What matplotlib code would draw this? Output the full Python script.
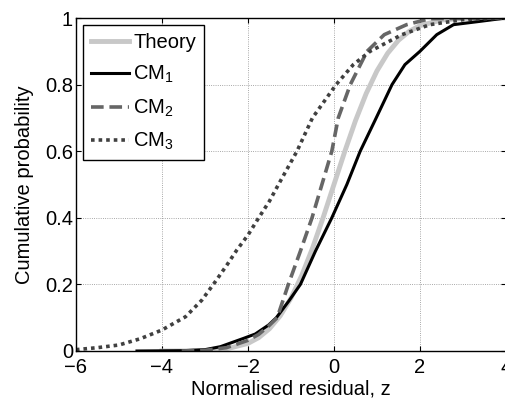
import matplotlib
matplotlib.use("Agg")
import matplotlib.pyplot as plt

plt.rcParams['font.family'] = ['Liberation Sans', 'DejaVu Sans']
plt.rcParams['mathtext.default'] = 'regular'

# theory curve
theory_z = [-4, -3.5, -3, -2.5, -2, -1.75, -1.5, -1.25, -1, -0.75, -0.5, -0.25, 0,
            0.25, 0.5, 0.75, 1, 1.25, 1.5, 1.75, 2, 2.5, 3, 3.5, 4]
theory_p = [0.0, 0.0002, 0.0013, 0.0062, 0.0228, 0.0401, 0.0668, 0.1056, 0.1587, 0.2266,
            0.3085, 0.4013, 0.5, 0.5987, 0.6915, 0.7734, 0.8413, 0.8944, 0.9332, 0.9599,
            0.9772, 0.9938, 0.9987, 0.9998, 1.0]

cm1_z = [-4.58, -3.5, -3.0, -2.64, -2.1, -1.83, -1.52, -1.34, -1.05, -0.78, -0.43, -0.05,
         0.30, 0.61, 0.96, 1.35, 1.65, 2.0, 2.39, 2.78, 3.4, 4.0]
cm1_p = [0.0, 0.001, 0.004, 0.013, 0.038, 0.051, 0.078, 0.1, 0.15, 0.2, 0.3, 0.4,
         0.5, 0.6, 0.694, 0.8, 0.86, 0.9, 0.95, 0.98, 0.99, 1.0]

cm2_z = [-3.54, -3.0, -2.5, -2.0, -1.75, -1.52, -1.32, -1.19, -1.06, -0.78, -0.51, -0.28,
         -0.05, 0.10, 0.38, 0.77, 1.17, 1.69, 2.23, 4.0]
cm2_p = [0.0, 0.002, 0.01, 0.032, 0.05, 0.075, 0.1, 0.15, 0.2, 0.3, 0.4, 0.5,
         0.6, 0.7, 0.8, 0.9, 0.95, 0.98, 0.998, 1.0]

cm3_z = [-6.0, -5.5, -5.0, -4.5, -4.0, -3.45, -3.07, -2.76, -2.49, -2.26, -2.0, -1.75,
         -1.5, -1.29, -0.86, -0.5, 0.05, 0.45, 0.84, 1.58, 2.23, 3.0, 4.0]
cm3_p = [0.004, 0.01, 0.018, 0.037, 0.063, 0.103, 0.153, 0.208, 0.258, 0.303, 0.348, 0.4,
         0.45, 0.5, 0.6, 0.7, 0.8, 0.86, 0.9, 0.95, 0.98, 0.995, 1.0]

xticks = [-6, -4, -2, 0, 2, 4]
yticks = [0, 0.2, 0.4, 0.6, 0.8, 1]
ytick_labels = ['0', '0.2', '0.4', '0.6', '0.8', '1']

fs = 14.5

fig = plt.figure(figsize=(5.06, 4.0), dpi=100)
ax = fig.add_axes([0.150, 0.1225, 0.850, 0.8325])

ax.plot(theory_z, theory_p, color='#c8c8c8', lw=3.5, label='Theory')
ax.plot(cm1_z, cm1_p, color='black', lw=2.2, label='CM$_1$')
ax.plot(cm2_z, cm2_p, color='#666666', lw=2.6, dashes=(3.5, 1.6), label='CM$_2$')
ax.plot(cm3_z, cm3_p, color='#404040', lw=2.6, dashes=(1, 1.1), label='CM$_3$')

ax.set_xlim(-6, 4)
ax.set_ylim(0, 1)
ax.set_xticks(xticks)
ax.set_yticks(yticks)
ax.set_yticklabels(ytick_labels)
ax.tick_params(direction='in', top=True, right=True, length=3.5, labelsize=fs)
ax.tick_params(axis='x', pad=5)
ax.tick_params(axis='y', pad=2)
ax.grid(True, linestyle=':', color='0.55', lw=0.6)
for s in ax.spines.values():
    s.set_linewidth(1.0)

ax.set_xlabel('Normalised residual, z', fontsize=fs, labelpad=2)
ax.set_ylabel('Cumulative probability', fontsize=fs, labelpad=8)

leg = ax.legend(loc='upper left', fontsize=fs, fancybox=False, edgecolor='black',
                framealpha=1, handlelength=1.9, handletextpad=0.2, labelspacing=0.6,
                borderaxespad=0.35, borderpad=0.4)
leg.get_frame().set_linewidth(1.0)

plt.savefig('out.png', dpi=100)
